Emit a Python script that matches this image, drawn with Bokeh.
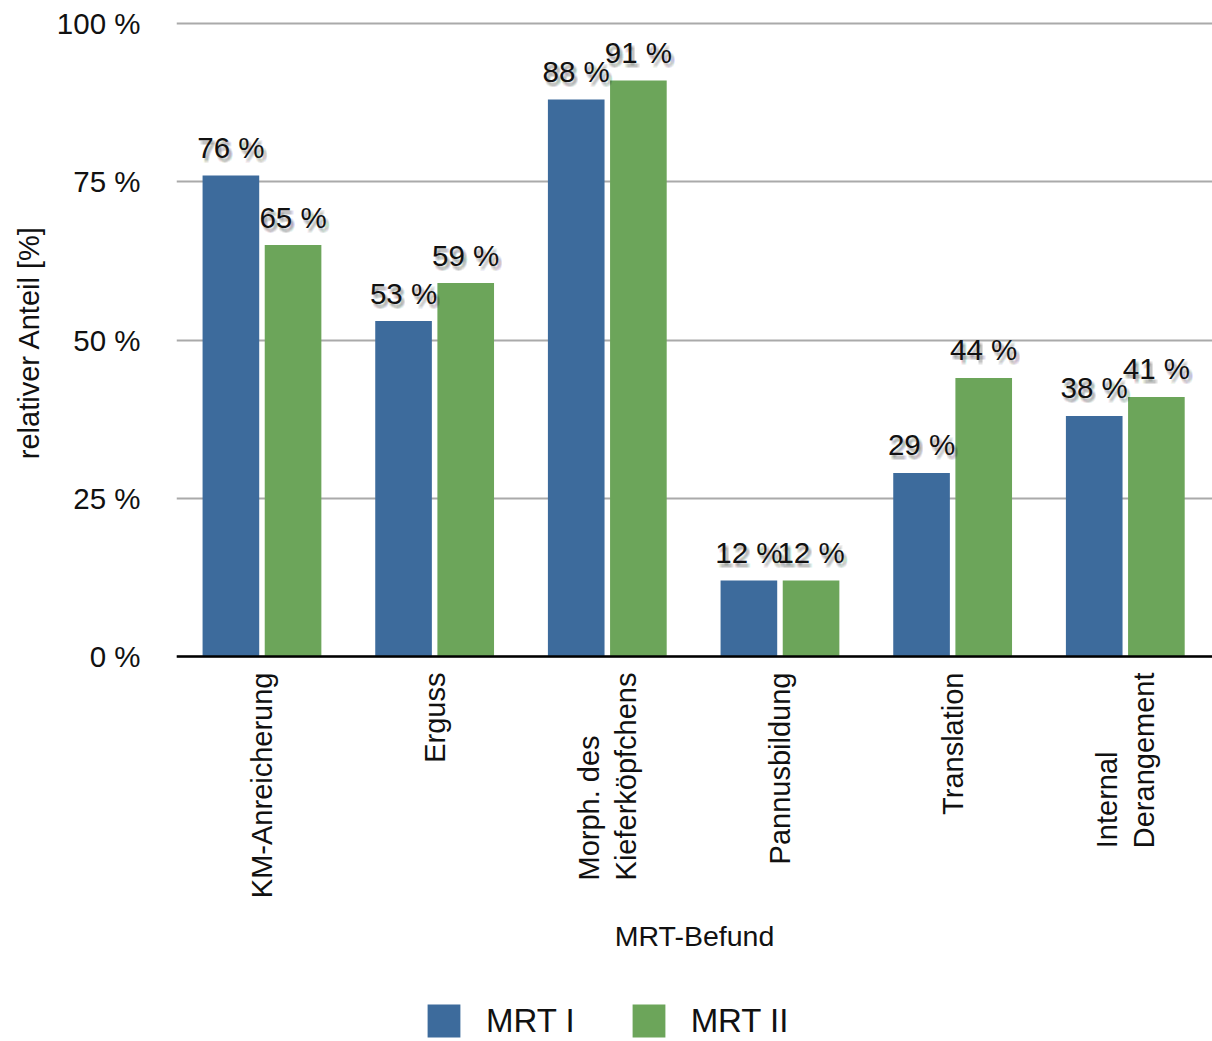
import math
import numpy as np
from bokeh.plotting import figure
from bokeh.models import (ColumnDataSource, Range1d, FixedTicker, Label,
                          Legend, LegendItem, Span, Title)
from bokeh.core.properties import value
from bokeh.embed import file_html
from bokeh.resources import INLINE

# --- data -----------------------------------------------------------------
categories = ["KM-Anreicherung", "Erguss", "Morph. des\nKieferköpfchens",
              "Pannusbildung", "Translation", "Internal\nDerangement"]
mrt_1 = [76, 53, 88, 12, 29, 38]
mrt_2 = [65, 59, 91, 12, 44, 41]
series_names = ["MRT I", "MRT II"]
y_ticks = [0, 25, 50, 75, 100]
y_tick_labels = ["0 %", "25 %", "50 %", "75 %", "100 %"]
x_title = "MRT-Befund"
y_title = "relativer Anteil [%]"

# --- style ----------------------------------------------------------------
FONT = "Liberation Sans"
FS = "29.5px"
BLUE = "#3d6b9c"
GREEN = "#6ca55a"
BAR_W = 0.328
DODGE = 0.18

W, H = 1212, 1041
TOP = 20                 # frame top in px
ZERO_PX = 656            # where the 0 % line sits
PX_PER_100 = 633         # pixels from 0 % to 100 %
unit = 100 / PX_PER_100
y_start = -(H - ZERO_PX) * unit          # frame reaches down to the legend
y_end = 100 + (ZERO_PX - PX_PER_100 - TOP) * unit

centers = np.arange(len(categories)) + 0.495
src = ColumnDataSource(dict(
    x1=centers - DODGE, x2=centers + DODGE,
    v1=mrt_1, v2=mrt_2,
    t1=[f"{v} %" for v in mrt_1], t2=[f"{v} %" for v in mrt_2],
))

p = figure(width=W, height=H,
           x_range=Range1d(0, len(categories)), y_range=Range1d(y_start, y_end),
           output_backend="svg", toolbar_location=None,
           min_border_left=176, min_border_right=0,
           min_border_top=TOP, min_border_bottom=0)
p.outline_line_color = None
p.background_fill_color = "white"
p.border_fill_color = "white"
p.xaxis.visible = False

# grid
p.xgrid.visible = False
p.ygrid.ticker = FixedTicker(ticks=y_ticks)
p.ygrid.grid_line_color = "#aaaaaa"
p.ygrid.grid_line_width = 2

# y axis: tick labels only
p.yaxis.ticker = FixedTicker(ticks=y_ticks)
p.yaxis.major_label_overrides = {t: s for t, s in zip(y_ticks, y_tick_labels)}
p.yaxis.axis_line_color = None
p.yaxis.major_tick_line_color = None
p.yaxis.major_tick_out = 0
p.yaxis.major_tick_in = 0
p.yaxis.minor_tick_line_color = None
p.yaxis.minor_tick_out = 0
p.yaxis.major_label_standoff = 36
p.yaxis.major_label_text_font = FONT
p.yaxis.major_label_text_font_size = FS
p.yaxis.major_label_text_color = "#111111"

# y title, placed along the 0-100 % span rather than the whole frame
p.add_layout(Title(text=y_title, align="right", offset=205, standoff=17,
                   text_font=FONT, text_font_size="29px",
                   text_font_style="normal", text_color="#111111"), "left")

# bars
r1 = p.vbar(x="x1", top="v1", bottom=0, width=BAR_W, source=src,
            fill_color=BLUE, line_color=None)
r2 = p.vbar(x="x2", top="v2", bottom=0, width=BAR_W, source=src,
            fill_color=GREEN, line_color=None)

# black base line at 0 %
p.add_layout(Span(location=0, dimension="width", line_color="black",
                  line_width=2.5))

# value labels with a soft drop shadow
LABEL_OFF = -28
shadow_offsets = [(dx, dy) for dx in (1, 2, 3, 4) for dy in (2, 3, 4, 5)]
for xc, yc, tc in (("x1", "v1", "t1"), ("x2", "v2", "t2")):
    for dx, dy in shadow_offsets:
        p.text(x=xc, y=yc, text=tc, source=src, x_offset=dx, y_offset=LABEL_OFF + dy,
               text_align="center", text_baseline="alphabetic",
               text_font=value(FONT), text_font_size=value(FS),
               text_color="black", text_alpha=0.04)
    p.text(x=xc, y=yc, text=tc, source=src, x_offset=0, y_offset=LABEL_OFF,
           text_align="center", text_baseline="alphabetic",
           text_font=value(FONT), text_font_size=value(FS),
           text_color="#111111")

# category labels, rotated, hanging below the base line
for xc, name in zip(centers, categories):
    p.add_layout(Label(x=xc, y=0, y_offset=-16, text=name, angle=math.pi / 2,
                       anchor="center_right", text_align="left",
                       text_font=FONT, text_font_size="29px", text_color="#111111",
                       text_line_height=1.15))

# x axis title
p.add_layout(Label(x=len(categories) / 2, y=0, y_offset=-279, text=x_title,
                   text_align="center", text_baseline="middle",
                   text_font=FONT, text_font_size="28.5px", text_color="#111111"))

legend = Legend(items=[LegendItem(label=series_names[0], renderers=[r1]),
                       LegendItem(label=series_names[1], renderers=[r2])],
                orientation="horizontal", location=(247, 0),
                glyph_width=41, glyph_height=41, label_standoff=22, spacing=53,
                padding=0, margin=0, border_line_color=None,
                background_fill_alpha=0,
                label_text_font=FONT, label_text_font_size="33px",
                label_text_color="#111111")
p.add_layout(legend, "center")

open("out.html", "w").write(file_html(p, INLINE))
